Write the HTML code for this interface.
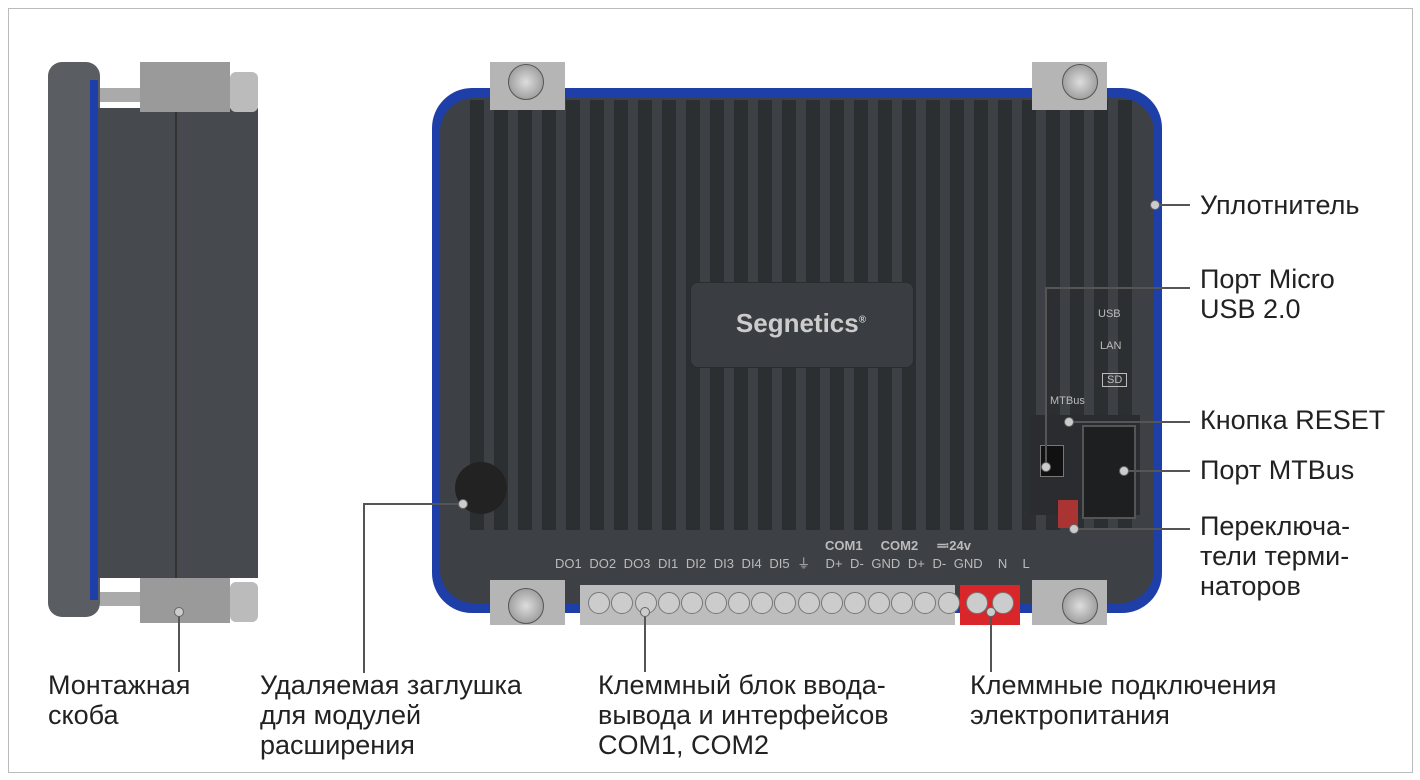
<!DOCTYPE html>
<html><head><meta charset="utf-8"><style>
body{margin:0;width:1420px;height:780px;background:#fff;position:relative;overflow:hidden;font-family:"Liberation Sans","Noto Sans CJK SC",sans-serif;}
.a{position:absolute}
.t{position:absolute;font-size:27px;color:#222;line-height:30px;white-space:nowrap}
.ln{position:absolute;background:#555}
.dot{position:absolute;width:8px;height:8px;border-radius:50%;background:#ccc;border:1px solid #666}
.fin{position:absolute;top:100px;width:14px;height:440px;background:#2c2f32}
.scr{position:absolute;width:34px;height:34px;border-radius:50%;background:radial-gradient(#ddd,#888);border:1px solid #555}
.tc{position:absolute;top:592px;width:20px;height:20px;border-radius:50%;background:#ccc;border:1px solid #777}
.sm{position:absolute;font-size:11px;color:#bbb}
</style></head><body>
<div class="a" style="left:8px;top:8px;width:1403px;height:763px;border:1px solid #bbb"></div>

<!-- side view -->
<div class="a" style="left:48px;top:62px;width:52px;height:555px;background:#5a5d61;border-radius:14px"></div>
<div class="a" style="left:90px;top:80px;width:8px;height:520px;background:#1f3fa8"></div>
<div class="a" style="left:98px;top:108px;width:160px;height:470px;background:#46494d"></div>
<div class="a" style="left:175px;top:108px;width:2px;height:470px;background:#333"></div>
<div class="a" style="left:100px;top:88px;width:140px;height:14px;background:#aaa"></div>
<div class="a" style="left:140px;top:62px;width:90px;height:50px;background:#9a9a9a"></div>
<div class="a" style="left:230px;top:72px;width:28px;height:40px;background:#bbb;border-radius:6px"></div>
<div class="a" style="left:100px;top:592px;width:140px;height:14px;background:#aaa"></div>
<div class="a" style="left:140px;top:578px;width:90px;height:45px;background:#9a9a9a"></div>
<div class="a" style="left:230px;top:582px;width:28px;height:40px;background:#bbb;border-radius:6px"></div>

<!-- main device -->
<div class="a" style="left:432px;top:88px;width:730px;height:525px;background:#1f3fa8;border-radius:40px"></div>
<div class="a" style="left:440px;top:98px;width:714px;height:505px;background:#3d4044;border-radius:34px"></div>
<div id="fins"></div>
<div class="a" style="left:440px;top:530px;width:714px;height:73px;background:#3d4044;border-radius:0 0 34px 34px"></div>
<div class="a" style="left:690px;top:282px;width:222px;height:84px;background:#3a3d41;border-radius:8px;border:1px solid #2a2c2f"></div>
<div class="a" style="left:690px;top:308px;width:222px;text-align:center;color:#ccc;font-weight:bold;font-size:26px">Segnetics<sup style="font-size:10px">®</sup></div>
<div class="a" style="left:455px;top:462px;width:52px;height:52px;border-radius:50%;background:#222"></div>
<div class="a" style="left:1030px;top:415px;width:110px;height:100px;background:#2a2c2f"></div>
<div class="a" style="left:1082px;top:425px;width:50px;height:90px;background:#1e1f21;border:2px solid #555"></div>
<div class="a" style="left:1040px;top:445px;width:22px;height:30px;background:#111;border:1px solid #777"></div>
<div class="a" style="left:1058px;top:500px;width:20px;height:28px;background:#a33"></div>
<div class="sm" style="left:555px;top:553px;font-size:13px;word-spacing:4px">DO1 DO2 DO3 DI1 DI2 DI3 DI4 DI5 ⏚ &nbsp;D+ D- GND D+ D- GND &nbsp;N &nbsp;L</div>
<div class="sm" style="left:825px;top:538px;font-size:13px;font-weight:bold">COM1 &nbsp; &nbsp; COM2 &nbsp; &nbsp; ≕24v</div>
<div class="sm" style="left:1098px;top:308px">USB</div>
<div class="sm" style="left:1100px;top:340px">LAN</div>
<div class="sm" style="left:1102px;top:373px;border:1px solid #bbb;padding:0 4px">SD</div>
<div class="sm" style="left:1050px;top:395px">MTBus</div>
<!-- brackets -->
<div class="a" style="left:490px;top:62px;width:75px;height:48px;background:#b5b5b5"></div>
<div class="a" style="left:1032px;top:62px;width:75px;height:48px;background:#b5b5b5"></div>
<div class="a" style="left:490px;top:580px;width:75px;height:45px;background:#b5b5b5"></div>
<div class="a" style="left:1032px;top:580px;width:75px;height:45px;background:#b5b5b5"></div>
<div class="scr" style="left:508px;top:64px"></div><div class="scr" style="left:1062px;top:64px"></div>
<div class="scr" style="left:508px;top:588px"></div><div class="scr" style="left:1062px;top:588px"></div>
<!-- terminals -->
<div class="a" style="left:580px;top:585px;width:375px;height:40px;background:#bdbdbd"></div>
<div id="tc"></div>
<div class="a" style="left:960px;top:585px;width:60px;height:40px;background:#d8262a"></div>
<div class="tc" style="left:966px"></div><div class="tc" style="left:992px"></div>

<!-- leader lines -->
<div class="ln" style="left:1155px;top:204px;width:35px;height:2px"></div><div class="dot" style="left:1150px;top:200px"></div>
<div class="ln" style="left:1045px;top:287px;width:145px;height:2px"></div><div class="ln" style="left:1045px;top:287px;width:2px;height:178px"></div><div class="dot" style="left:1041px;top:462px"></div>
<div class="ln" style="left:1070px;top:421px;width:120px;height:2px"></div><div class="dot" style="left:1064px;top:417px"></div>
<div class="ln" style="left:1125px;top:470px;width:65px;height:2px"></div><div class="dot" style="left:1119px;top:466px"></div>
<div class="ln" style="left:1075px;top:528px;width:115px;height:2px"></div><div class="dot" style="left:1069px;top:524px"></div>
<div class="ln" style="left:178px;top:612px;width:2px;height:60px"></div><div class="dot" style="left:174px;top:607px"></div>
<div class="ln" style="left:363px;top:503px;width:2px;height:170px"></div><div class="ln" style="left:363px;top:503px;width:100px;height:2px"></div><div class="dot" style="left:458px;top:499px"></div>
<div class="ln" style="left:644px;top:612px;width:2px;height:60px"></div><div class="dot" style="left:640px;top:607px"></div>
<div class="ln" style="left:990px;top:612px;width:2px;height:60px"></div><div class="dot" style="left:986px;top:607px"></div>

<!-- labels -->
<div class="t" style="left:1200px;top:190px">Уплотнитель</div>
<div class="t" style="left:1200px;top:264px">Порт Micro<br>USB 2.0</div>
<div class="t" style="left:1200px;top:405px">Кнопка RESET</div>
<div class="t" style="left:1200px;top:455px">Порт MTBus</div>
<div class="t" style="left:1200px;top:511px">Переключа-<br>тели терми-<br>наторов</div>
<div class="t" style="left:48px;top:670px">Монтажная<br>скоба</div>
<div class="t" style="left:260px;top:670px">Удаляемая заглушка<br>для модулей<br>расширения</div>
<div class="t" style="left:598px;top:670px">Клеммный блок ввода-<br>вывода и интерфейсов<br>COM1, COM2</div>
<div class="t" style="left:970px;top:670px">Клеммные подключения<br>электропитания</div>

<script>
var f=document.getElementById('fins'),h='';
for(var x=470;x<1140;x+=24){h+='<div class="fin" style="left:'+x+'px"></div>';}
f.outerHTML=h;
var t=document.getElementById('tc'),s='';
for(var i=0;i<16;i++){s+='<div class="tc" style="left:'+(588+i*23.3)+'px"></div>';}
t.outerHTML=s;
</script>
</body></html>
